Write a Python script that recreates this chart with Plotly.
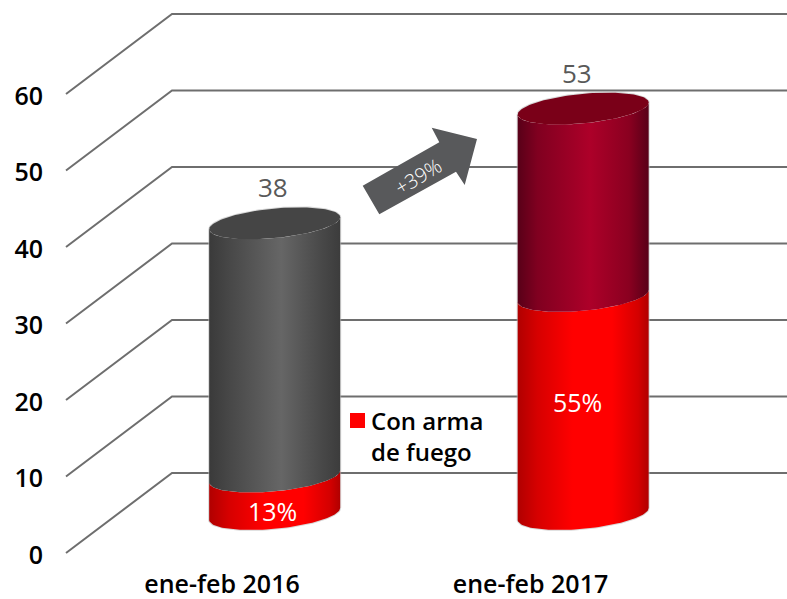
import numpy as np
import plotly.graph_objects as go

# ---- data ----
categories = ["ene-feb 2016", "ene-feb 2017"]
totals = [38, 53]
firearm_values = [4.9, 28.5]
firearm_labels = ["13%", "55%"]
total_labels = ["38", "53"]
y_ticks = [0, 10, 20, 30, 40, 50, 60]
growth_label = "+39%"
legend_label = "Con arma<br>de fuego"

# ---- pixel geometry of the pseudo-3D projection ----
W, H = 787, 599
PX_PER_CAT = 308.5
PX_PER_UNIT = 7.65
X0_PX, Y0_PX = 222, 553
M_L, M_B = 44, 32
FONT = "Open Sans"


def cx(px):
    return (px - X0_PX) / PX_PER_CAT


def vy(py):
    return (Y0_PX - py) / PX_PER_UNIT


DEPTH_X = 106 / PX_PER_CAT
DEPTH_Y = 80 / PX_PER_UNIT
FRONT_X = cx(66)
RIGHT_X = cx(W)
BAR_DEPTH = 0.4875
BAR_NUDGE = 1 / PX_PER_CAT
A = 65.5 / PX_PER_CAT
B = 14.8 / PX_PER_UNIT
SHEAR = 6 / PX_PER_UNIT

fig = go.Figure()

# gridlines: diagonal floor/side plus horizontal back wall
gx, gy = [], []
for v in y_ticks:
    gx += [FRONT_X, FRONT_X + DEPTH_X, RIGHT_X, None]
    gy += [v, v + DEPTH_Y, v + DEPTH_Y, None]
fig.add_trace(go.Scatter(x=gx, y=gy, mode="lines", showlegend=False, hoverinfo="skip",
                         line=dict(color="#6e6e6e", width=2)))


def arc(c, y, t):
    return c + A * np.cos(t), y + SHEAR * np.cos(t) - B * np.sin(t)


def band(c, y0, y1, scale):
    t = np.linspace(0, np.pi, 60)
    x0, yy0 = arc(c, y0, t)
    x1, yy1 = arc(c, y1, t[::-1])
    xs = np.concatenate([x0, x1, x0[:1]])
    ys = np.concatenate([yy0, yy1, yy0[:1]])
    fig.add_trace(go.Scatter(
        x=xs, y=ys, mode="lines", fill="toself", showlegend=False, hoverinfo="skip",
        line=dict(width=0),
        fillgradient=dict(type="horizontal", colorscale=scale, start=c - A, stop=c + A)))


GREY = [[0, "#3a3a3a"], [0.15, "#474747"], [0.55, "#666666"], [0.85, "#494949"], [1, "#3c3c3c"]]
CRIMSON = [[0, "#580018"], [0.15, "#800020"], [0.55, "#ad0029"], [0.85, "#8a0020"], [1, "#580018"]]
RED = [[0, "#b00000"], [0.15, "#d60000"], [0.42, "#ff0000"], [0.72, "#ff0000"], [0.92, "#d40000"], [1, "#b00000"]]
bodies = [GREY, CRIMSON]
caps = ["#454545", "#7a0018"]
pct_yshift = [-16, 3]
label_xshift = [-2, -6]

for i, (tot, arm) in enumerate(zip(totals, firearm_values)):
    c = i + BAR_DEPTH * DEPTH_X + BAR_NUDGE
    base = BAR_DEPTH * DEPTH_Y
    # soft outline behind the cylinder
    t1 = np.linspace(0, np.pi, 60)
    t2 = np.linspace(np.pi, 2 * np.pi, 60)
    xa, ya = arc(c, base, t1)
    xb, yb = arc(c, base + tot, t2)
    fig.add_trace(go.Scatter(x=np.r_[xa, xb, xa[:1]], y=np.r_[ya, yb, ya[:1]], mode="lines",
                             showlegend=False, hoverinfo="skip",
                             line=dict(color="rgba(190,190,190,0.6)", width=2)))
    band(c, base, base + arm, RED)
    band(c, base + arm, base + tot, bodies[i])
    t = np.linspace(0, 2 * np.pi, 120)
    xc, yc = arc(c, base + tot, t)
    fig.add_trace(go.Scatter(x=xc, y=yc, mode="lines", fill="toself", showlegend=False, hoverinfo="skip",
                             line=dict(width=0), fillcolor=caps[i]))
    fig.add_annotation(x=c, y=base + tot, text=total_labels[i], showarrow=False,
                       xshift=label_xshift[i], yshift=36, font=dict(family=FONT, size=26, color="#595959"))
    fig.add_annotation(x=c, y=base + arm / 2, text=firearm_labels[i], showarrow=False,
                       xshift=label_xshift[i], yshift=pct_yshift[i],
                       font=dict(family=FONT, size=25, color="#ffffff", weight=400))

# legend swatch and label
fig.add_trace(go.Scatter(x=[cx(357.5)], y=[vy(420.5)], mode="markers", showlegend=False, hoverinfo="skip",
                         marker=dict(symbol="square", size=15, color="#ff0000")))
fig.add_annotation(x=cx(369), y=vy(436), text=legend_label, showarrow=False, xanchor="left", align="left",
                   font=dict(family=FONT, size=24, color="#000000", weight=600))

# growth arrow
arrow_px = [(362.7, 185.7), (439.3, 142.3), (431.7, 127.7), (477, 139),
            (464.7, 185), (456, 171.7), (379.3, 214.3)]
path = "M " + " L ".join(f"{cx(px):.5f},{vy(py):.4f}" for px, py in arrow_px) + " Z"
fig.add_shape(type="path", path=path, xref="x", yref="y", fillcolor="#58595b", line=dict(width=0), layer="above")
fig.add_annotation(x=cx(418), y=vy(176.5), text=growth_label, showarrow=False, textangle=-31,
                   font=dict(family=FONT, size=20, color="#ffffff", weight=300))

fig.update_layout(
    width=W, height=H, autosize=False, showlegend=False,
    margin=dict(l=M_L, r=0, t=0, b=M_B, autoexpand=False),
    paper_bgcolor="#ffffff", plot_bgcolor="rgba(0,0,0,0)",
    xaxis=dict(range=[cx(M_L), cx(W)], tickmode="array", tickvals=[0, 1], ticktext=categories,
               automargin=False,
               showgrid=False, zeroline=False, showline=False, ticks="", fixedrange=True,
               tickfont=dict(family=FONT, size=25, color="#000000", weight=600)),
    yaxis=dict(range=[vy(H - M_B), vy(0)], tickmode="array", tickvals=y_ticks,
               automargin=False, ticklabelshift=2,
               showgrid=False, zeroline=False, showline=False, ticks="", fixedrange=True,
               tickfont=dict(family=FONT, size=25, color="#000000", weight=600)),
)

# the reference has no page margin around the chart
fig.write_html("out.html", config=dict(displayModeBar=False),
               post_script="document.body.style.margin='0';")
